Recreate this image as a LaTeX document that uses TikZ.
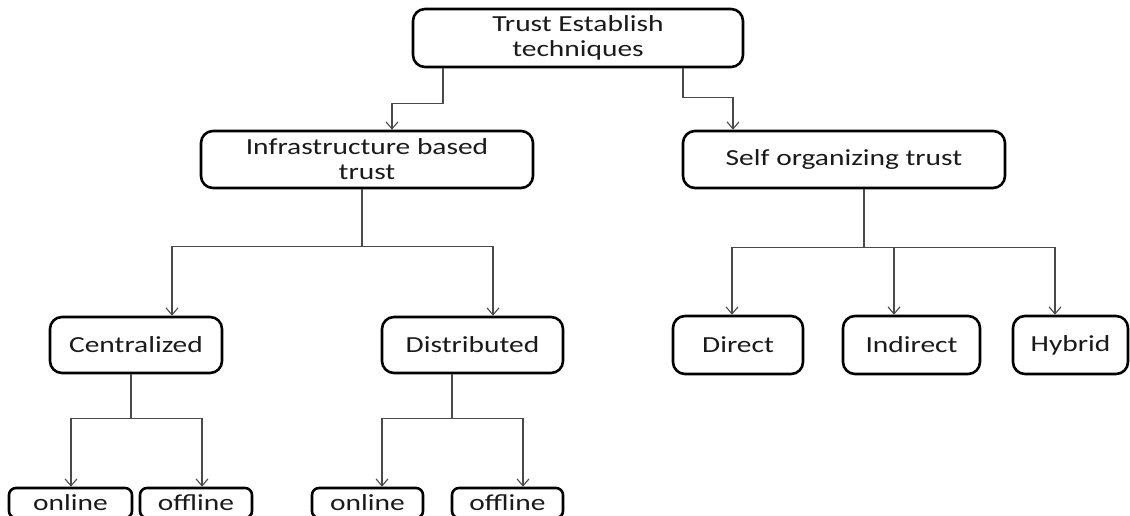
\documentclass[tikz,border=0pt]{standalone}
\usepackage{fontspec}
\setmainfont{Carlito}[FakeStretch=1.28]
\usetikzlibrary{arrows.meta}
\definecolor{lineclr}{HTML}{4A4A4A}
\definecolor{txtclr}{HTML}{1A1A1A}
\tikzset{
  box/.style={draw=black, line width=2.6pt, rounded corners=12pt, align=center,
    inner sep=0pt, text=txtclr, font=\fontsize{23}{25}\selectfont},
  smallbox/.style={box, rounded corners=7pt},
  ln/.style={draw=lineclr, line width=1.3pt},
  arr/.style={ln, -{Straight Barb[length=7pt,width=12pt,line width=1.1pt]}},
}
\begin{document}
\begin{tikzpicture}[x=1pt, y=-1pt]
\useasboundingbox (0,0) rectangle (1130,516);
\clip (0,0) rectangle (1130,516);
\fill[white] (0,0) rectangle (1130,516);

% top level
\node[box, minimum width=330pt, minimum height=58pt] (root) at (578,38) {Trust Establish\\techniques};

% second level
\node[box, minimum width=332pt, minimum height=57pt] (infra) at (367,159.5) {Infrastructure based\\trust};
\node[box, minimum width=322pt, minimum height=57pt] (self) at (844,159.5) {Self organizing trust};

% third level
\node[box, minimum width=172pt, minimum height=56pt] (cent) at (136,345) {Centralized};
\node[box, minimum width=181pt, minimum height=56pt] (dist) at (472.5,345) {Distributed};
\node[box, minimum width=130pt, minimum height=58pt] (direct) at (738,345) {Direct};
\node[box, minimum width=137pt, minimum height=58pt] (indirect) at (911.5,345) {Indirect};
\node[box, minimum width=115pt, minimum height=58pt] (hybrid) at (1070.5,345) {Hybrid};

% bottom level (runs off the lower edge)
\node[smallbox, minimum width=123pt, minimum height=30pt] (on1) at (70.5,503) {online};
\node[smallbox, minimum width=112pt, minimum height=30pt] (off1) at (196,503) {offline};
\node[smallbox, minimum width=111pt, minimum height=30pt] (on2) at (367.5,503) {online};
\node[smallbox, minimum width=111pt, minimum height=30pt] (off2) at (507.5,503) {offline};

% root to second level
\draw[arr] ([xshift=-135pt]root.south) -- ++(0,35) -| ([xshift=25pt]infra.north);
\draw[arr] ([xshift=105pt]root.south) -- ++(0,29) -| ([xshift=-111pt]self.north);

% infrastructure branch
\draw[ln] ([xshift=-5pt]infra.south) -- ++(0,57) coordinate (j1);
\draw[arr] (j1) -| ([xshift=36pt]cent.north);
\draw[arr] (j1) -| ([xshift=20.5pt]dist.north);

% self organizing branch
\draw[ln] ([xshift=20pt]self.south) -- ++(0,58) coordinate (j2);
\draw[arr] (j2) -| ([xshift=-6pt]direct.north);
\draw[arr] (j2) -| ([xshift=-17.5pt]indirect.north);
\draw[arr] (j2) -| ([xshift=-15.5pt]hybrid.north);

% centralized branch
\draw[ln] ([xshift=-5pt]cent.south) -- ++(0,44) coordinate (j3);
\draw[arr] (j3) -| ([xshift=0.5pt]on1.north);
\draw[arr] (j3) -| ([xshift=6pt]off1.north);

% distributed branch
\draw[ln] ([xshift=-20.5pt]dist.south) -- ++(0,44) coordinate (j4);
\draw[arr] (j4) -| ([xshift=14.5pt]on2.north);
\draw[arr] (j4) -| ([xshift=15.5pt]off2.north);
\end{tikzpicture}
\end{document}
